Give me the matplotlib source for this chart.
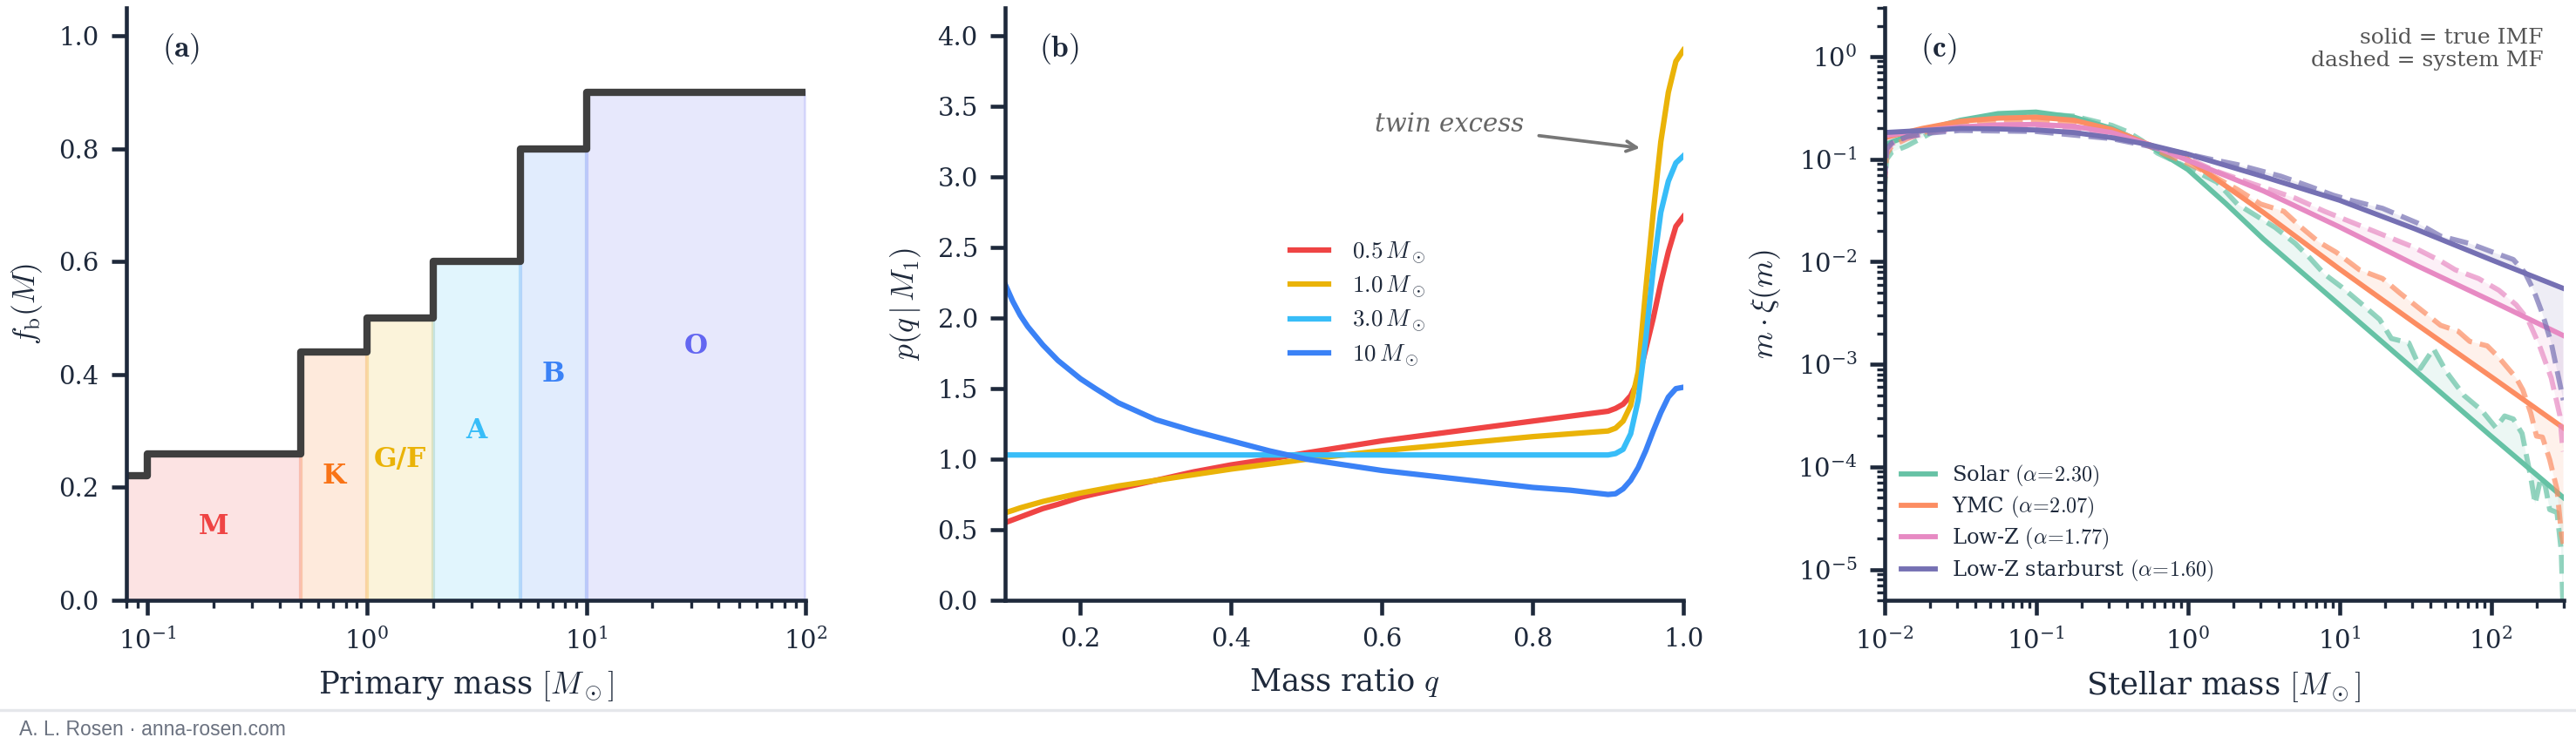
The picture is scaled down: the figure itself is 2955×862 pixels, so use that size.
import numpy as np
import matplotlib
matplotlib.use("Agg")
import matplotlib.pyplot as plt
from matplotlib.ticker import MultipleLocator

plt.rcParams["font.family"] = "DejaVu Serif"
plt.rcParams["mathtext.fontset"] = "cm"
plt.rcParams["font.size"] = 7

INK = "#1e293b"
for k in ["axes.edgecolor", "axes.labelcolor", "xtick.color", "ytick.color", "text.color"]:
    plt.rcParams[k] = INK
plt.rcParams["axes.linewidth"] = 1.1
plt.rcParams["xtick.major.width"] = 1.1
plt.rcParams["ytick.major.width"] = 1.1
plt.rcParams["xtick.minor.width"] = 0.8
plt.rcParams["ytick.minor.width"] = 0.8
plt.rcParams["xtick.major.size"] = 4
plt.rcParams["ytick.major.size"] = 4
plt.rcParams["xtick.minor.size"] = 2.2
plt.rcParams["ytick.minor.size"] = 2.2

# ---------------- (a) binary fraction vs primary mass ----------------
mass_edges = [0.08, 0.1, 0.5, 1.0, 2.0, 5.0, 10.0, 100.0]
fb_values = [0.22, 0.26, 0.44, 0.50, 0.60, 0.80, 0.90]
class_names = ["M", "K", "G/F", "A", "B", "O"]
class_lo = [0.08, 0.5, 1.0, 2.0, 5.0, 10.0]
class_hi = [0.5, 1.0, 2.0, 5.0, 10.0, 100.0]
class_colors = ["#ef4444", "#f97316", "#eab308", "#38bdf8", "#3b82f6", "#6366f1"]

# ---------------- (b) mass-ratio distributions ----------------
q_vals = [0.10, 0.11, 0.12, 0.13, 0.15, 0.17, 0.20, 0.22, 0.25, 0.30,
          0.35, 0.40, 0.45, 0.50, 0.60, 0.70, 0.80, 0.85, 0.90, 0.91,
          0.92, 0.93, 0.94, 0.95, 0.96, 0.97, 0.98, 0.99, 1.00]
p_m05 = [0.55, 0.57, 0.59, 0.61, 0.65, 0.68, 0.73, 0.755, 0.79, 0.85,
         0.91, 0.96, 1.00, 1.045, 1.13, 1.20, 1.27, 1.305, 1.34, 1.36,
         1.39, 1.45, 1.56, 1.78, 2.00, 2.25, 2.47, 2.65, 2.72]
p_m10 = [0.62, 0.637, 0.655, 0.67, 0.70, 0.725, 0.76, 0.78, 0.81, 0.85,
         0.89, 0.93, 0.965, 1.00, 1.06, 1.11, 1.16, 1.18, 1.20, 1.22,
         1.27, 1.38, 1.62, 2.20, 2.75, 3.25, 3.60, 3.82, 3.90]
p_m30 = [1.03, 1.03, 1.03, 1.03, 1.03, 1.03, 1.03, 1.03, 1.03, 1.03,
         1.03, 1.03, 1.03, 1.03, 1.03, 1.03, 1.03, 1.03, 1.03, 1.04,
         1.07, 1.18, 1.42, 1.85, 2.35, 2.75, 2.97, 3.10, 3.15]
p_m100 = [2.24, 2.12, 2.02, 1.94, 1.81, 1.70, 1.57, 1.50, 1.40, 1.28,
          1.20, 1.13, 1.06, 1.00, 0.92, 0.86, 0.80, 0.78, 0.75, 0.755,
          0.79, 0.85, 0.94, 1.06, 1.20, 1.33, 1.44, 1.50, 1.51]
q_labels = [r"$0.5\,M_\odot$", r"$1.0\,M_\odot$", r"$3.0\,M_\odot$", r"$10\,M_\odot$"]
q_colors = ["#ef4444", "#eab308", "#38bdf8", "#3b82f6"]

# ---------------- (c) IMF vs system MF (log10 m, log10 m*xi) ----------------
logm_true = [-2.0, -1.75, -1.5, -1.25, -1.0, -0.75, -0.5, -0.25, 0.0, 0.25,
             0.5, 1.0, 1.5, 2.0, 2.477]
solar_true = [-0.86, -0.72, -0.62, -0.555, -0.54, -0.59, -0.70, -0.87, -1.10, -1.43,
              -1.78, -2.42, -3.06, -3.70, -4.30]
ymc_true = [-0.79, -0.70, -0.63, -0.60, -0.59, -0.62, -0.71, -0.86, -1.00, -1.26,
            -1.52, -2.07, -2.60, -3.12, -3.62]
lowz_true = [-0.77, -0.72, -0.685, -0.665, -0.66, -0.68, -0.74, -0.86, -1.01, -1.16,
             -1.31, -1.66, -2.03, -2.38, -2.72]
star_true = [-0.74, -0.72, -0.70, -0.705, -0.715, -0.74, -0.79, -0.86, -0.95, -1.06,
             -1.17, -1.40, -1.68, -1.98, -2.26]

solar_sys = [(-2.0, -1.35), (-1.985, -1.0), (-1.95, -0.93), (-1.85, -0.87), (-1.75, -0.79),
             (-1.65, -0.71), (-1.5, -0.64), (-1.25, -0.57), (-1.0, -0.555), (-0.75, -0.58),
             (-0.5, -0.67), (-0.4, -0.73), (-0.3, -0.82), (-0.2, -0.94), (0.0, -1.08),
             (0.193, -1.223), (0.327, -1.437), (0.576, -1.665), (0.71, -1.822), (0.806, -1.964),
             (0.902, -2.121), (1.017, -2.249), (1.132, -2.392), (1.266, -2.563), (1.343, -2.748),
             (1.458, -2.791), (1.534, -3.04), (1.621, -2.848), (1.707, -3.076), (1.822, -3.304),
             (1.937, -3.447), (2.032, -3.618), (2.09, -3.504), (2.147, -3.533), (2.205, -3.675),
             (2.262, -4.103), (2.291, -4.36), (2.329, -4.103), (2.358, -4.188), (2.387, -4.417),
             (2.435, -4.445), (2.463, -4.816), (2.477, -5.5)]
ymc_sys = [(-2.0, -1.3), (-1.985, -0.95), (-1.95, -0.87), (-1.85, -0.80), (-1.7, -0.72),
           (-1.5, -0.66), (-1.25, -0.62), (-1.0, -0.615), (-0.75, -0.64), (-0.5, -0.72),
           (-0.3, -0.84), (-0.15, -0.95), (0.0, -1.04), (0.136, -1.137), (0.327, -1.294),
           (0.481, -1.437), (0.634, -1.508), (0.749, -1.665), (0.864, -1.807), (0.979, -1.907),
           (1.132, -2.078), (1.285, -2.164), (1.40, -2.306), (1.534, -2.463), (1.668, -2.62),
           (1.783, -2.677), (1.86, -2.777), (1.975, -2.82), (2.052, -2.934), (2.166, -3.133),
           (2.21, -3.25), (2.262, -3.475), (2.30, -3.70), (2.339, -3.71), (2.387, -3.93),
           (2.435, -4.22), (2.465, -4.67), (2.477, -4.75)]
lowz_sys = [(-2.0, -1.25), (-1.985, -0.92), (-1.95, -0.85), (-1.85, -0.79), (-1.7, -0.74),
            (-1.5, -0.70), (-1.0, -0.68), (-0.5, -0.745), (-0.3, -0.85), (0.0, -0.99),
            (0.174, -1.109), (0.423, -1.237), (0.71, -1.38), (0.902, -1.508), (1.094, -1.622),
            (1.285, -1.736), (1.477, -1.85), (1.668, -1.993), (1.764, -2.078), (1.918, -2.164),
            (2.052, -2.278), (2.166, -2.42), (2.243, -2.563), (2.32, -2.82), (2.397, -3.133),
            (2.454, -3.5), (2.469, -3.76), (2.477, -3.85)]
star_sys = [(-2.0, -1.25), (-1.985, -0.90), (-1.95, -0.84), (-1.85, -0.78), (-1.7, -0.745),
            (-1.5, -0.72), (-1.0, -0.73), (-0.5, -0.80), (-0.3, -0.86), (0.0, -0.95),
            (0.136, -0.995), (0.327, -1.052), (0.615, -1.166), (0.806, -1.266), (0.96, -1.351),
            (1.094, -1.408), (1.285, -1.479), (1.515, -1.622), (1.668, -1.75), (1.86, -1.822),
            (2.013, -1.907), (2.147, -1.978), (2.224, -2.107), (2.281, -2.278), (2.339, -2.506),
            (2.397, -2.791), (2.454, -3.19), (2.477, -3.35)]

imf_labels = [r"Solar $(\alpha\!=\!2.30)$", r"YMC $(\alpha\!=\!2.07)$",
              r"Low-Z $(\alpha\!=\!1.77)$", r"Low-Z starburst $(\alpha\!=\!1.60)$"]
imf_colors = ["#66c2a5", "#fc8d62", "#e78ac3", "#7570b3"]


fig = plt.figure(figsize=(2955 / 300, 862 / 300), dpi=300)
ax_a = fig.add_axes([0.0491, 0.2007, 0.2636, 0.789])
ax_b = fig.add_axes([0.3902, 0.2007, 0.2633, 0.789])
ax_c = fig.add_axes([0.7315, 0.2007, 0.2636, 0.789])

for ax in (ax_a, ax_b, ax_c):
    ax.spines["top"].set_visible(False)
    ax.spines["right"].set_visible(False)

# ---- panel (a)
steps_y = fb_values + [fb_values[-1]]
for name, lo, hi, col in zip(class_names, class_lo, class_hi, class_colors):
    xs = [e for e in mass_edges if lo <= e <= hi]
    ys = [steps_y[mass_edges.index(e)] for e in xs]
    ax_a.fill_between(xs, 0, ys, step="post", color=col, alpha=0.15, lw=1.0)
    level = fb_values[mass_edges.index(lo)] if name != "M" else fb_values[1]
    ax_a.text(np.sqrt(lo * hi), level / 2, name, color=col, fontsize=7.5,
              fontweight="bold", ha="center", va="center")
ax_a.step(mass_edges, steps_y, where="post", color="#3f3f3f", lw=2.0)
ax_a.set_xscale("log")
ax_a.set_xlim(0.08, 100)
ax_a.set_ylim(0, 1.05)
ax_a.yaxis.set_major_locator(MultipleLocator(0.2))
ax_a.set_xlabel(r"Primary mass $[M_\odot]$", fontsize=8.5)
ax_a.set_ylabel(r"$f_{\rm b}(M)$", fontsize=8.5)
ax_a.text(0.08, 0.93, r"$(\mathbf{a})$", transform=ax_a.transAxes, fontsize=8.5,
          ha="center", va="center")

# ---- panel (b)
for ys, lab, col in zip([p_m05, p_m10, p_m30, p_m100], q_labels, q_colors):
    ax_b.plot(q_vals, ys, color=col, lw=1.5, label=lab)
ax_b.set_xlim(0.1, 1.0)
ax_b.set_ylim(0, 4.2)
ax_b.yaxis.set_major_locator(MultipleLocator(0.5))
ax_b.xaxis.set_major_locator(MultipleLocator(0.2))
ax_b.set_xlabel(r"Mass ratio $q$", fontsize=8.5)
ax_b.set_ylabel(r"$p(q\,|\,M_1)$", fontsize=8.5)
ax_b.legend(loc="center", bbox_to_anchor=(0.52, 0.5), frameon=False, fontsize=6.5,
            handlelength=1.6, labelspacing=0.35, handletextpad=1.0)
ax_b.annotate("twin excess", xy=(0.952, 3.2), xytext=(0.69, 3.37),
              fontsize=7, style="italic", color="#666666", ha="center", va="center",
              arrowprops=dict(arrowstyle="->", color="#777777", lw=0.9))
ax_b.text(0.08, 0.93, r"$(\mathbf{b})$", transform=ax_b.transAxes, fontsize=8.5,
          ha="center", va="center")

# ---- panel (c)
m_true = 10 ** np.array(logm_true)
for truth, sys_pts, lab, col in zip([solar_true, ymc_true, lowz_true, star_true],
                                    [solar_sys, ymc_sys, lowz_sys, star_sys],
                                    imf_labels, imf_colors):
    y_true = 10 ** np.array(truth)
    sm = 10 ** np.array([p[0] for p in sys_pts])
    sy = 10 ** np.array([p[1] for p in sys_pts])
    ax_c.fill(np.concatenate([m_true, sm[::-1]]), np.concatenate([y_true, sy[::-1]]),
              color=col, alpha=0.12, lw=0)
    ax_c.plot(sm, sy, color=col, lw=1.4, ls="--", alpha=0.7)
    ax_c.plot(m_true, y_true, color=col, lw=1.4, label=lab)
ax_c.set_xscale("log")
ax_c.set_yscale("log")
ax_c.set_xlim(1e-2, 300)
ax_c.set_ylim(5e-6, 3)
ax_c.set_xlabel(r"Stellar mass $[M_\odot]$", fontsize=8.5)
ax_c.set_ylabel(r"$m \cdot \xi(m)$", fontsize=8.5)
ax_c.legend(loc="lower left", frameon=False, fontsize=5.8, handlelength=1.6,
            labelspacing=0.3, borderaxespad=0.4)
ax_c.text(0.08, 0.93, r"$(\mathbf{c})$", transform=ax_c.transAxes, fontsize=8.5,
          ha="center", va="center")
ax_c.text(0.97, 0.93, "solid = true IMF\ndashed = system MF", transform=ax_c.transAxes,
          fontsize=6, color="#555555", ha="right", va="center", multialignment="right")

# footer
fig.add_artist(plt.Line2D([0, 1], [0.055, 0.055], transform=fig.transFigure,
                          color="#e5e7eb", lw=0.8))
fig.text(0.0075, 0.028, "A. L. Rosen \u00b7 anna-rosen.com", fontsize=5.5,
         family="Liberation Sans", color="#6b7280", ha="left", va="center")

fig.savefig("out.png", dpi=300)
